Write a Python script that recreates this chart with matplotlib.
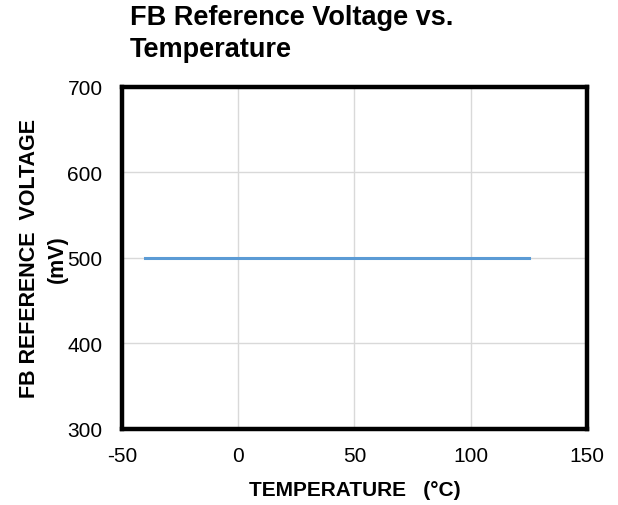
import matplotlib
matplotlib.use("Agg")
import matplotlib.pyplot as plt

# FB reference voltage vs temperature
temp = [-40, -20, 0, 25, 50, 85, 105, 125]
vfb = [500, 500, 500, 500, 500, 500, 500, 500]

xticks = [-50, 0, 50, 100, 150]
yticks = [300, 400, 500, 600, 700]

plt.rcParams['font.family'] = ['Liberation Sans', 'DejaVu Sans']

fig = plt.figure(figsize=(6.18, 5.06), dpi=100)
ax = fig.add_axes([0.1974, 0.1502, 0.7524, 0.6759])

ax.plot(temp, vfb, color='#5B9BD5', linewidth=2.2, zorder=3)

ax.set_xlim(-50, 150)
ax.set_ylim(300, 700)
ax.set_xticks(xticks)
ax.set_yticks(yticks)
ax.set_xticklabels(['-50', '0', '50', '100', '150'])
ax.grid(True, color='#D9D9D9', linewidth=1.0, zorder=0)
ax.set_axisbelow(True)

for s in ax.spines.values():
    s.set_linewidth(3.2)
    s.set_color('black')

ax.tick_params(length=0, labelsize=15)
ax.tick_params(axis='x', pad=12)
ax.tick_params(axis='y', pad=14)

ax.set_xlabel('TEMPERATURE   (°C)', fontsize=15, fontweight='bold', labelpad=11)
ax.set_ylabel('FB REFERENCE  VOLTAGE\n(mV)', fontsize=15.5, fontweight='bold',
              labelpad=0, linespacing=1.4)

fig.text(130 / 618, 1 - 5 / 506, 'FB Reference Voltage vs.\nTemperature',
         fontsize=19.5, fontweight='bold', ha='left', va='top', linespacing=1.3)

fig.savefig('out.png', dpi=100)
